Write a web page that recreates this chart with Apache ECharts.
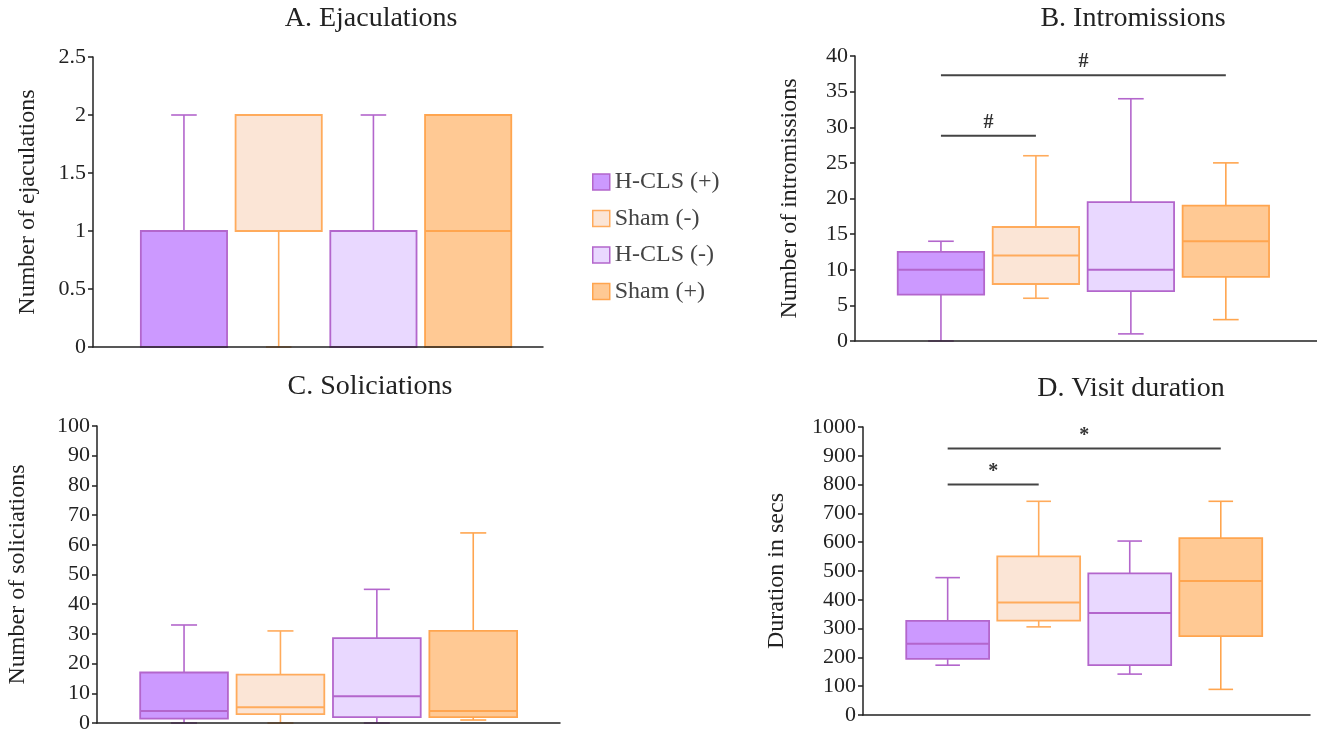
<!DOCTYPE html>
<html>
<head>
<meta charset="utf-8">
<script src="https://cdn.jsdelivr.net/npm/echarts@6/dist/echarts.min.js"></script>
<style>
  html, body { margin: 0; padding: 0; background: #fff; }
  #chart { width: 1317px; height: 734px; }
</style>
</head>
<body>
<div id="chart"></div>
<script>
// Groups, in plotting order
const groups = ['H-CLS (+)', 'Sham (-)', 'H-CLS (-)', 'Sham (+)'];

// Box statistics per group: [min, Q1, median, Q3, max]
const ejaculations = [[0, 0, 1, 1, 2], [0, 1, 1, 2, 2], [0, 0, 1, 1, 2], [0, 0, 1, 2, 2]];
const intromissions = [[0, 6.5, 10, 12.5, 14], [6, 8, 12, 16, 26], [1, 7, 10, 19.5, 34], [3, 9, 14, 19, 25]];
const solicitations = [[0, 1.5, 4, 17, 33], [0, 3, 5.3, 16.3, 31], [0, 2, 9, 28.6, 45], [1, 2, 4, 31, 64]];
const duration = [[173, 195, 247, 327, 477], [306, 328, 391, 551, 742], [142, 173, 354, 492, 604], [89, 274, 465, 614, 742]];

// Significance brackets: [from group, to group, level, mark]
const intromissionSig = [[1, 2, 28.8, '#'], [1, 4, 37.3, '#']];
const durationSig = [[1, 2, 800, '*'], [1, 4, 925, '*']];

// Panel titles and axis names
const titles = ['A. Ejaculations', 'B. Intromissions', 'C. Soliciations', 'D. Visit duration'];
const yNames = ['Number of ejaculations', 'Number of intromissions', 'Number of soliciations', 'Duration in secs'];
const yMaxes = [2.5, 40, 100, 1000];
const ySteps = [0.5, 5, 10, 100];

// Styling
const FONT = 'Liberation Serif';
const fills = ['#cc99ff', '#fbe5d6', '#e9d8ff', '#ffc994'];
const borders = ['#b366cc', '#ffab5c', '#b366cc', '#ffa54f'];
const BOX_W = 0.91;   // box width, in x units
const CAP_W = 0.27;   // whisker cap width, in x units

// Panel frames
const frames = [
  { left: 93,  top: 57,  width: 450, height: 290, xMin: 0.04,  xMax: 4.79, nameGap: 53, tx: 371,  ty: 19 },
  { left: 855, top: 56,  width: 462, height: 285, xMin: 0.095, xMax: 4.96, nameGap: 53, tx: 1133, ty: 19 },
  { left: 97,  top: 426, width: 463, height: 297, xMin: 0.097, xMax: 4.9,  nameGap: 67, tx: 370,  ty: 387 },
  { left: 863, top: 427, width: 447, height: 288, xMin: 0.07,  xMax: 4.98, nameGap: 74, tx: 1131, ty: 389 }
];
const panelData = [ejaculations, intromissions, solicitations, duration];
const panelSig = [[], intromissionSig, [], durationSig];

function boxRenderer(fill, border) {
  return function (params, api) {
    const x = api.value(0);
    const mn = api.value(1), q1 = api.value(2), md = api.value(3), q3 = api.value(4), mx = api.value(5);
    const c = (xx, yy) => api.coord([xx, yy]);
    const lineStyle = { stroke: border, lineWidth: 1.6 };
    const seg = (a, b) => ({ type: 'line', shape: { x1: a[0], y1: a[1], x2: b[0], y2: b[1] }, style: lineStyle });
    const tl = c(x - BOX_W / 2, q3);
    const br = c(x + BOX_W / 2, q1);
    return {
      type: 'group',
      children: [
        seg(c(x, q3), c(x, mx)),
        seg(c(x, q1), c(x, mn)),
        seg(c(x - CAP_W / 2, mx), c(x + CAP_W / 2, mx)),
        seg(c(x - CAP_W / 2, mn), c(x + CAP_W / 2, mn)),
        {
          type: 'rect',
          shape: { x: tl[0], y: tl[1], width: br[0] - tl[0], height: br[1] - tl[1] },
          style: { fill: fill, stroke: border, lineWidth: 1.8 }
        },
        {
          type: 'line',
          shape: { x1: tl[0], y1: c(x, md)[1], x2: br[0], y2: c(x, md)[1] },
          style: { stroke: border, lineWidth: 2 }
        }
      ]
    };
  };
}

function sigRenderer(marks) {
  return function (params, api) {
    const a = api.coord([api.value(0), api.value(2)]);
    const b = api.coord([api.value(1), api.value(2)]);
    return {
      type: 'group',
      children: [
        { type: 'line', shape: { x1: a[0], y1: a[1], x2: b[0], y2: b[1] }, style: { stroke: '#444', lineWidth: 2 } },
        {
          type: 'text',
          style: {
            x: (a[0] + b[0]) / 2, y: a[1] - 3, text: marks[params.dataIndex],
            textAlign: 'center', textVerticalAlign: 'bottom',
            font: 'bold 20px ' + FONT, fill: '#333'
          }
        }
      ]
    };
  };
}

const grid = [], xAxis = [], yAxis = [], series = [], graphic = [];
frames.forEach((f, p) => {
  grid.push({ left: f.left, top: f.top, width: f.width, height: f.height });
  xAxis.push({
    type: 'value', gridIndex: p, min: f.xMin, max: f.xMax, z: 10,
    axisLine: { show: true, onZero: false, lineStyle: { color: '#222', width: 1.5 } },
    axisTick: { show: false }, axisLabel: { show: false }, splitLine: { show: false }
  });
  yAxis.push({
    type: 'value', gridIndex: p, min: 0, max: yMaxes[p], interval: ySteps[p],
    name: yNames[p], nameLocation: 'middle', nameGap: f.nameGap, nameRotate: 90,
    nameTextStyle: { fontFamily: FONT, fontSize: 24, color: '#222' },
    axisLine: { show: true, lineStyle: { color: '#222', width: 1.5 } },
    axisTick: { show: true, length: 5, lineStyle: { color: '#222', width: 1.5 } },
    axisLabel: { fontFamily: FONT, fontSize: 22, color: '#222', margin: 7, formatter: v => String(v) },
    splitLine: { show: false }
  });
  groups.forEach((g, i) => {
    series.push({
      type: 'custom', name: g, xAxisIndex: p, yAxisIndex: p,
      itemStyle: { color: fills[i], borderColor: borders[i] },
      encode: { x: 0, y: [1, 2, 3, 4, 5] },
      data: [[i + 1].concat(panelData[p][i])],
      renderItem: boxRenderer(fills[i], borders[i]),
      silent: true
    });
  });
  if (panelSig[p].length) {
    series.push({
      type: 'custom', xAxisIndex: p, yAxisIndex: p, z: 5,
      encode: { x: [0, 1], y: 2 },
      data: panelSig[p].map(s => s.slice(0, 3)),
      renderItem: sigRenderer(panelSig[p].map(s => s[3])),
      silent: true
    });
  }
  graphic.push({
    type: 'text', x: f.tx, y: f.ty,
    style: { text: titles[p], textAlign: 'center', textVerticalAlign: 'middle', font: '28px ' + FONT, fill: '#222' }
  });
});

const chart = echarts.init(document.getElementById('chart'), null, { renderer: 'canvas' });
chart.setOption({
  backgroundColor: '#fff',
  animation: false,
  grid, xAxis, yAxis, series, graphic,
  legend: {
    orient: 'vertical', left: 587, top: 165,
    itemWidth: 17, itemHeight: 16, itemGap: 12.5, icon: 'rect',
    textStyle: { fontFamily: FONT, fontSize: 24, color: '#444' },
    selectedMode: false,
    data: groups.map((g, i) => ({ name: g, itemStyle: { color: fills[i], borderColor: borders[i], borderWidth: 1.5 } }))
  }
});
</script>
</body>
</html>
